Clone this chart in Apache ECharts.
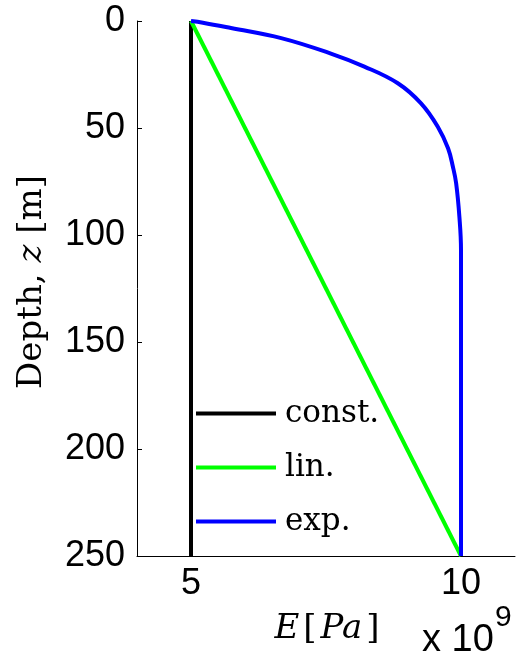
<!DOCTYPE html>
<html>
<head>
<meta charset="utf-8">
<script src="https://cdn.jsdelivr.net/npm/echarts@6/dist/echarts.min.js"></script>
<style>
  html, body { margin: 0; padding: 0; background: #fff; }
  #chart { width: 517px; height: 665px; }
</style>
</head>
<body>
<div id="chart"></div>
<script>
// Young's modulus profiles vs. depth; E values in units of 10^9 Pa
const seriesNames = ['const.', 'lin.', 'exp.'];
const seriesColors = ['#000000', '#00ff00', '#0000ff'];

// constant profile: [E, z]
const constProfile = [[5, 0], [5, 250]];
// linear profile: [E, z]
const linProfile = [[5, 0], [10, 250]];
// exponential-type profile: depth (m) and modulus (10^9 Pa)
const expDepth = [0, 0.8, 3.3, 8.0, 15.2, 21.3, 29.1, 38.5, 49.4, 59.5, 68.1, 75.8, 91.4, 107, 130, 250];
const expModulus = [5.0, 5.22, 5.74, 6.67, 7.59, 8.21, 8.83, 9.26, 9.57, 9.76, 9.85, 9.91, 9.97, 10.0, 10.0, 10.0];

const xTicks = [5, 10];
const yTicks = [0, 50, 100, 150, 200, 250];

const expProfile = expDepth.map((z, i) => [expModulus[i], z]);

const sansFont = '"Liberation Sans", Arial, Helvetica, sans-serif';
const serifFont = '"DejaVu Serif", "Liberation Serif", serif';

const chart = echarts.init(document.getElementById('chart'), null, { renderer: 'canvas' });

chart.setOption({
  animation: false,
  backgroundColor: '#ffffff',
  grid: { left: 137, right: 2, top: 21, bottom: 109, containLabel: false },
  xAxis: {
    type: 'value',
    min: 4,
    max: 11,
    axisLine: { show: true, onZero: false, lineStyle: { color: '#000', width: 1 } },
    axisTick: { show: true, inside: true, length: 5, customValues: xTicks, lineStyle: { color: '#000' } },
    axisLabel: {
      customValues: xTicks,
      margin: 10,
      color: '#000',
      fontFamily: sansFont,
      fontSize: 36
    },
    splitLine: { show: false }
  },
  yAxis: {
    type: 'value',
    inverse: true,
    min: yTicks[0],
    max: yTicks[yTicks.length - 1],
    interval: 50,
    axisLine: { show: true, onZero: false, lineStyle: { color: '#000', width: 1 } },
    axisTick: { show: true, inside: true, length: 5, lineStyle: { color: '#000' } },
    axisLabel: {
      margin: 12,
      color: '#000',
      fontFamily: sansFont,
      fontSize: 36
    },
    splitLine: { show: false }
  },
  legend: {
    orient: 'vertical',
    left: 196,
    top: 398,
    padding: 0,
    icon: 'rect',
    itemWidth: 80,
    itemHeight: 4,
    itemGap: 23,
    data: seriesNames,
    textStyle: {
      color: '#000',
      fontFamily: serifFont,
      fontSize: 31,
      lineHeight: 30,
      padding: [0, 0, 0, 4]
    }
  },
  series: [
    { name: seriesNames[0], data: constProfile },
    { name: seriesNames[1], data: linProfile },
    { name: seriesNames[2], data: expProfile, smooth: 0.4 }
  ].map((s, i) => Object.assign({
    type: 'line',
    showSymbol: false,
    symbol: 'none',
    color: seriesColors[i],
    lineStyle: { color: seriesColors[i], width: 4 },
    clip: true
  }, s)),
  graphic: [
    {
      type: 'text',
      x: 32,
      y: 282,
      rotation: Math.PI / 2,
      style: {
        text: '{n|Depth, }{i|z}{n| [m]}',
        textAlign: 'center',
        textVerticalAlign: 'middle',
        fill: '#000',
        rich: {
          n: { fontFamily: serifFont, fontSize: 34, fill: '#000' },
          i: { fontFamily: serifFont, fontSize: 34, fontStyle: 'italic', fill: '#000' }
        }
      }
    },
    {
      type: 'text',
      x: 329,
      y: 629,
      style: {
        text: '{i|E}{n|[}{i|Pa}{n|]}',
        textAlign: 'center',
        textVerticalAlign: 'middle',
        fill: '#000',
        rich: {
          n: { fontFamily: serifFont, fontSize: 34, fill: '#000', padding: [0, 4, 0, 4] },
          i: { fontFamily: serifFont, fontSize: 34, fontStyle: 'italic', fill: '#000' }
        }
      }
    },
    {
      type: 'text',
      x: 422,
      y: 641,
      style: {
        text: 'x 10',
        textAlign: 'left',
        textVerticalAlign: 'middle',
        fill: '#000',
        font: '38px ' + sansFont
      }
    },
    {
      type: 'text',
      x: 495,
      y: 618,
      style: {
        text: '9',
        textAlign: 'left',
        textVerticalAlign: 'middle',
        fill: '#000',
        font: '30px ' + sansFont
      }
    }
  ]
});
</script>
</body>
</html>
